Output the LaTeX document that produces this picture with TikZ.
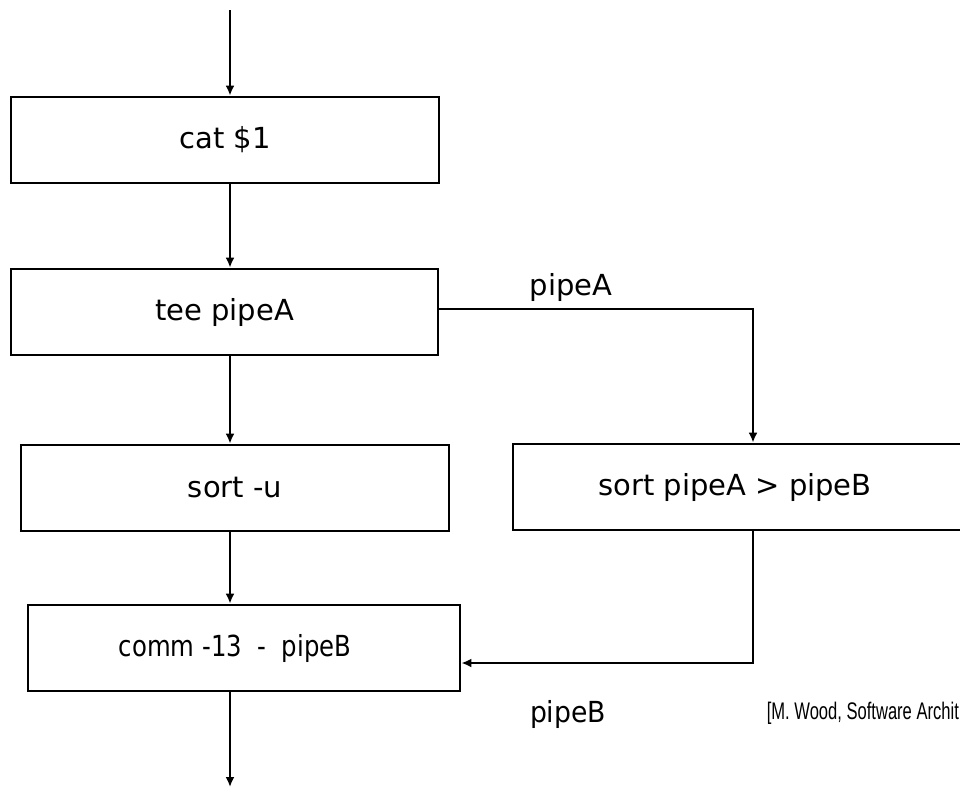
\documentclass[tikz,border=0pt]{standalone}
\usepackage{fontspec}
\setmainfont{DejaVu Sans}
\newfontfamily\citefont{Liberation Sans}
\usetikzlibrary{arrows.meta}
\begin{document}
\begin{tikzpicture}[x=1pt,y=-1pt,
  stagebox/.style={draw, line width=2.8pt, minimum height=86pt, inner sep=0pt, font=\fontsize{29}{33}\selectfont},
  flow/.style={line width=2.3pt, -{Latex[length=10pt,width=9pt]}},
  lbl/.style={font=\fontsize{29}{33}\selectfont, inner sep=0pt}]
\useasboundingbox (0,0) rectangle (960,787);
\clip (0,0) rectangle (960,787);
\node[stagebox, minimum width=428pt] (cat) at (225,140) {cat \$1};
\node[stagebox, minimum width=427pt] (tee) at (224.5,312) {tee pipeA};
\node[stagebox, minimum width=428pt] (sortu) at (235,488) {sort -u};
\node[stagebox, minimum width=460pt] (sorta) at (743,487) {\hspace*{-16pt}sort pipeA > pipeB};
\node[stagebox, minimum width=432pt] (comm) at (244,648) {\hspace*{-18pt}\scalebox{0.84}[1]{comm -13\ \ -\ \ pipeB}};
\coordinate (top) at (230,10);
\coordinate (bot) at (230,787);
\coordinate (ra) at (753,309);
\coordinate (rb) at (753,663);
\node[lbl] (la) at (571,287) {pipeA};
\node[lbl, xscale=0.92] (lb) at (568,714) {pipeB};
\node[anchor=east, inner sep=0pt, font=\citefont\fontsize{24}{28}\selectfont, xscale=0.69] (cite) at (959,713) {[M. Wood, Software Archit};
\draw[flow] (top) -- (top |- cat.north);
\draw[flow] (top |- cat.south) -- (top |- tee.north);
\draw[flow] (top |- tee.south) -- (top |- sortu.north);
\draw[flow] (top |- sortu.south) -- (top |- comm.north);
\draw[flow] (top |- comm.south) -- (bot);
\draw[flow] (tee.east |- ra) -- (ra) -- (ra |- sorta.north);
\draw[flow] (ra |- sorta.south) -- (rb) -- (comm.east |- rb);
\end{tikzpicture}
\end{document}
